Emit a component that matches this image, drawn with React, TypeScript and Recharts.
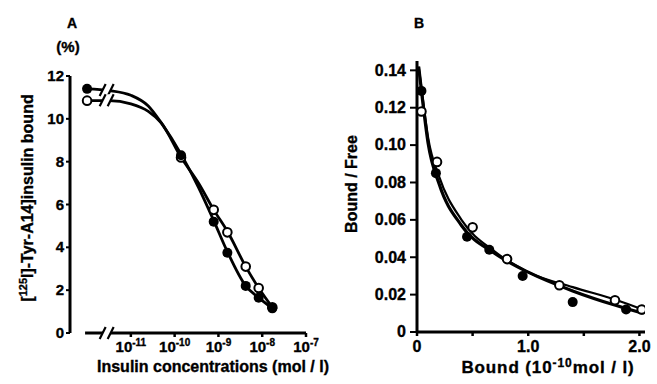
import React from 'react';
import { ComposedChart, Line, Scatter, XAxis, YAxis, ReferenceLine, Label } from 'recharts';

const FONT = '"Liberation Sans", Arial, Helvetica, sans-serif';

// ---- panel A: displacement of [125I]-Tyr-A14 insulin ----
const concA = [1e-12, 1.4e-10, 7.8e-10, 1.6e-9, 4.2e-9, 8.3e-9, 1.7e-8];
const closedA = [11.4, 8.3, 5.2, 3.75, 2.2, 1.65, 1.15];
const openA = [10.85, 8.2, 5.75, 4.7, 3.1, 2.1, 1.2];

// fitted curves
const curveConcA = [1e-12, 3.2e-12, 1e-11, 2.5e-11, 5e-11, 1.4e-10, 3.5e-10, 7.8e-10, 1.6e-9, 4.2e-9, 8.3e-9, 1.7e-8];
const curveClosedA = [11.4, 11.32, 11.1, 10.6, 9.8, 8.35, 6.8, 5.25, 3.8, 2.2, 1.65, 1.15];
const curveOpenA = [10.85, 10.85, 10.7, 10.35, 9.8, 8.2, 7.0, 5.75, 4.75, 3.1, 2.1, 1.2];

const xTicksA = [1e-11, 1e-10, 1e-9, 1e-8, 1e-7];
const yTicksA = [0, 1, 2, 3, 4, 5, 6, 7, 8, 9, 10, 11, 12];
const breakA = [
  { x: 2.8e-12, y: 11.35 },
  { x: 2.8e-12, y: 10.87 },
  { x: 2.8e-12, y: 0 },
];

// ---- panel B: Scatchard plot ----
const boundClosedB = [0.04, 0.17, 0.45, 0.65, 0.95, 1.4, 1.88];
const bfClosedB = [0.129, 0.085, 0.051, 0.044, 0.03, 0.016, 0.012];
const boundOpenB = [0.04, 0.18, 0.5, 0.81, 1.28, 1.78, 2.02];
const bfOpenB = [0.118, 0.091, 0.056, 0.039, 0.025, 0.017, 0.012];

const curveBoundB = [0.015, 0.05, 0.1, 0.2, 0.4, 0.7, 1.0, 1.4, 1.8, 2.03];
const curveClosedB = [0.142, 0.124, 0.101, 0.079, 0.057, 0.042, 0.032, 0.022, 0.014, 0.01];
const curveOpenB = [0.142, 0.126, 0.104, 0.083, 0.06, 0.043, 0.032, 0.024, 0.017, 0.012];

const xTicksB = [0, 0.5, 1.0, 1.5, 2.0];
const yTicksB = [0, 0.01, 0.02, 0.03, 0.04, 0.05, 0.06, 0.07, 0.08, 0.09, 0.1, 0.11, 0.12, 0.13, 0.14];

const toPoints = (xs: number[], ys: number[]) => xs.map((x, i) => ({ x, y: ys[i] }));

const filledDot = (p: any) => <circle cx={p.cx} cy={p.cy} r={5} fill="#000" />;
const openDot = (p: any) => <circle cx={p.cx} cy={p.cy} r={4.3} fill="#fff" stroke="#000" strokeWidth={2} />;

const breakMark = (p: any) => {
  const { cx, cy } = p;
  const h = 6;
  const s = 3;
  return (
    <g>
      <polygon
        points={`${cx - 4 - s},${cy + h} ${cx - 4 + s},${cy - h} ${cx + 4 + s},${cy - h} ${cx + 4 - s},${cy + h}`}
        fill="#fff"
      />
      <line x1={cx - 4 - s} y1={cy + h} x2={cx - 4 + s} y2={cy - h} stroke="#000" strokeWidth={2.2} />
      <line x1={cx + 4 - s} y1={cy + h} x2={cx + 4 + s} y2={cy - h} stroke="#000" strokeWidth={2.2} />
    </g>
  );
};

const text = { fontFamily: FONT, fontWeight: 'bold' as const, fill: '#000', stroke: '#000', strokeWidth: 0.35 };

const makeYTick = (major: (v: number) => boolean, fmt: (v: number) => string, len: number, gap: number, size: number) => (p: any) => {
  const { x, y, payload } = p;
  const isMajor = major(payload.value);
  return (
    <g>
      <line x1={x - (isMajor ? len : 2)} x2={x} y1={y} y2={y} stroke="#000" strokeWidth={2} />
      {isMajor && (
        <text x={x - gap} y={y} dy={size / 3} textAnchor="end" fontSize={size} {...text}>
          {fmt(payload.value)}
        </text>
      )}
    </g>
  );
};

const logTick = (p: any) => {
  const { x, y, payload } = p;
  const exp = Math.round(Math.log10(payload.value));
  return (
    <text x={x} y={y} dy={13} textAnchor="middle" fontSize={15} {...text}>
      10<tspan dy={-6} fontSize={10}>{exp}</tspan>
    </text>
  );
};

const linTickB = (p: any) => {
  const { x, y, payload } = p;
  const v = payload.value;
  if (v !== 0 && v !== 1 && v !== 2) return <g />;
  return (
    <text x={x} y={y} dy={14} textAnchor="middle" fontSize={16} {...text}>
      {v === 0 ? '0' : v.toFixed(1)}
    </text>
  );
};

export default function App() {
  const curveA1 = toPoints(curveConcA, curveClosedA);
  const curveA2 = toPoints(curveConcA, curveOpenA);
  const ptsA1 = toPoints(concA, closedA);
  const ptsA2 = toPoints(concA, openA);
  const curveB1 = toPoints(curveBoundB, curveClosedB);
  const curveB2 = toPoints(curveBoundB, curveOpenB);
  const ptsB1 = toPoints(boundClosedB, bfClosedB);
  const ptsB2 = toPoints(boundOpenB, bfOpenB);

  return (
    <div style={{ position: 'absolute', left: 0, top: 0, width: 657, height: 384, background: '#fff' }}>
      <div style={{ position: 'absolute', left: 0, top: 0 }}>
        <ComposedChart width={330} height={384} margin={{ top: 76, right: 24, bottom: 0, left: 0 }}>
          <XAxis
            type="number"
            dataKey="x"
            scale="log"
            domain={[Math.pow(10, -12.39), 1e-7]}
            allowDataOverflow
            ticks={xTicksA}
            tick={logTick}
            tickSize={4}
            axisLine={false}
            tickLine={{ stroke: '#000', strokeWidth: 2.5 }}
            height={51}
          >
            <Label
              content={() => (
                <text x={213} y={372} textAnchor="middle" fontSize={16} {...text}>
                  Insulin concentrations (mol / l)
                </text>
              )}
            />
          </XAxis>
          <YAxis
            type="number"
            dataKey="y"
            domain={[0, 12]}
            ticks={yTicksA}
            tick={makeYTick((v) => v % 2 === 0, (v) => String(v), 4, 6, 15)}
            tickSize={0}
            tickMargin={0}
            tickLine={false}
            axisLine={{ stroke: '#000', strokeWidth: 3 }}
            width={70}
          >
            <Label
              content={() => (
                <text x={27} y={198} transform="rotate(-90 27 198)" textAnchor="middle" dy={6} fontSize={16} {...text}>
                  [<tspan dy={-6} fontSize={11}>125</tspan>
                  <tspan dy={6}>I]-Tyr-A14]insulin bound</tspan>
                </text>
              )}
            />
          </YAxis>
          <ReferenceLine
            segment={[{ x: 9e-13, y: 0 }, { x: 1e-7, y: 0 }]}
            stroke="#000"
            strokeWidth={3}
          />
          <Line data={curveA2} dataKey="y" type="monotone" stroke="#000" strokeWidth={2.8} dot={false} isAnimationActive={false} />
          <Line data={curveA1} dataKey="y" type="monotone" stroke="#000" strokeWidth={2.8} dot={false} isAnimationActive={false} />
          <Scatter data={breakA} dataKey="y" shape={breakMark} isAnimationActive={false} />
          <Scatter data={ptsA2} dataKey="y" shape={openDot} isAnimationActive={false} />
          <Scatter data={ptsA1} dataKey="y" shape={filledDot} isAnimationActive={false} />
        </ComposedChart>
      </div>
      <div style={{ position: 'absolute', left: 330, top: 0 }}>
        <ComposedChart width={327} height={384} margin={{ top: 61, right: 12, bottom: 0, left: 0 }}>
          <XAxis
            type="number"
            dataKey="x"
            domain={[0, 2.05]}
            allowDataOverflow
            ticks={xTicksB}
            tick={linTickB}
            tickSize={4}
            axisLine={{ stroke: '#000', strokeWidth: 3 }}
            tickLine={{ stroke: '#000', strokeWidth: 2.5 }}
            height={52}
          >
            <Label
              content={() => (
                <text x={218} y={373} textAnchor="middle" fontSize={17} letterSpacing={0.9} {...text}>
                  Bound (10<tspan dy={-6} fontSize={12}>-10</tspan>
                  <tspan dy={6}>mol / l)</tspan>
                </text>
              )}
            />
          </XAxis>
          <YAxis
            type="number"
            dataKey="y"
            domain={[0, 0.145]}
            allowDataOverflow
            ticks={yTicksB}
            tick={makeYTick((v) => Math.round(v * 100) % 2 === 0, (v) => (v === 0 ? '0' : v.toFixed(2)), 7, 11, 16)}
            tickSize={0}
            tickMargin={0}
            tickLine={false}
            axisLine={{ stroke: '#000', strokeWidth: 3 }}
            width={87}
          >
            <Label
              content={() => (
                <text x={21} y={184} transform="rotate(-90 21 184)" textAnchor="middle" dy={6} fontSize={16} {...text}>
                  Bound / Free
                </text>
              )}
            />
          </YAxis>
          <Line data={curveB2} dataKey="y" type="monotone" stroke="#000" strokeWidth={2.2} dot={false} isAnimationActive={false} />
          <Line data={curveB1} dataKey="y" type="monotone" stroke="#000" strokeWidth={3.2} dot={false} isAnimationActive={false} />
          <Scatter data={ptsB1} dataKey="y" shape={filledDot} isAnimationActive={false} />
          <Scatter data={ptsB2} dataKey="y" shape={openDot} isAnimationActive={false} />
        </ComposedChart>
      </div>
      <svg width={657} height={60} style={{ position: 'absolute', left: 0, top: 0, pointerEvents: 'none' }}>
        <text x={72} y={28} textAnchor="middle" fontSize={14} {...text}>A</text>
        <text x={68} y={52} textAnchor="middle" fontSize={15} {...text}>(%)</text>
        <text x={419} y={28} textAnchor="middle" fontSize={14} {...text}>B</text>
      </svg>
    </div>
  );
}
